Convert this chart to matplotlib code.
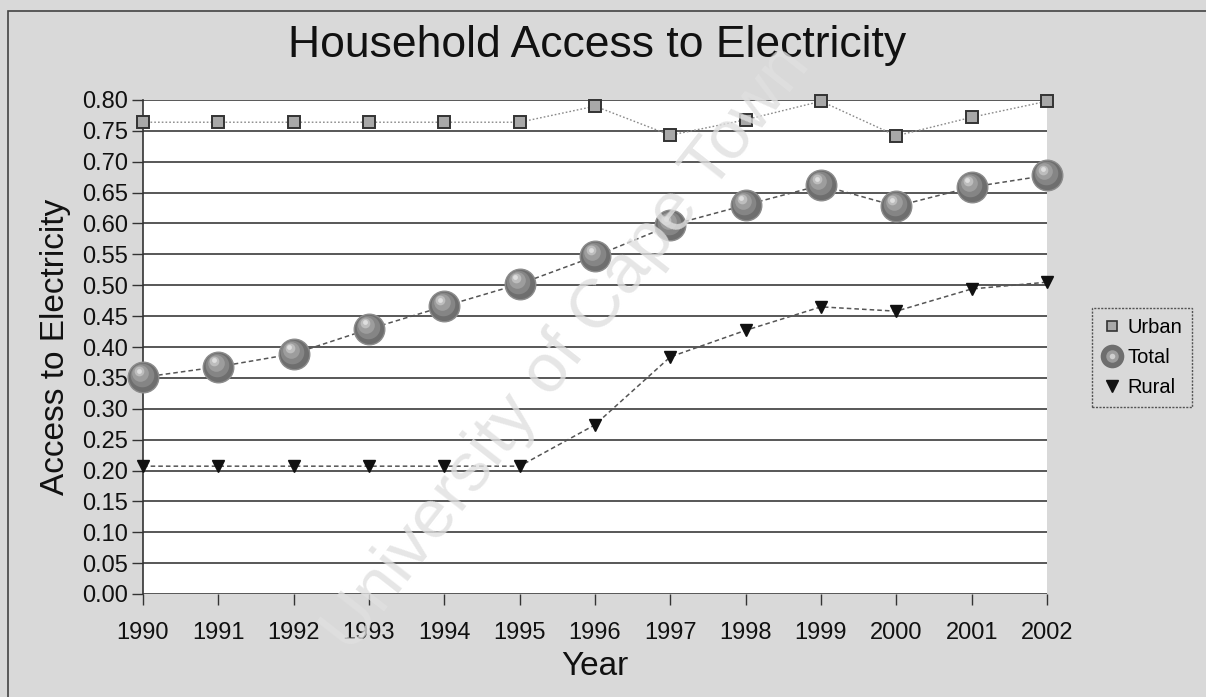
import matplotlib

matplotlib.use("Agg")
import matplotlib.pyplot as plt
import matplotlib.transforms as mtransforms
from matplotlib.legend_handler import HandlerTuple
from matplotlib.lines import Line2D
from matplotlib.patches import Rectangle

plt.rcParams["font.family"] = ["Liberation Sans", "DejaVu Sans"]

years = [1990, 1991, 1992, 1993, 1994, 1995, 1996, 1997, 1998, 1999, 2000, 2001, 2002]
urban = [0.764, 0.764, 0.764, 0.764, 0.764, 0.764, 0.790, 0.743, 0.768, 0.798, 0.742, 0.772, 0.798]
total = [0.351, 0.368, 0.389, 0.429, 0.466, 0.502, 0.547, 0.597, 0.630, 0.662, 0.628, 0.659, 0.678]
rural = [0.207, 0.207, 0.207, 0.207, 0.207, 0.207, 0.274, 0.384, 0.427, 0.465, 0.458, 0.494, 0.505]
y_ticks = [i * 0.05 for i in range(17)]

BG = "#d9d9d9"

fig = plt.figure(figsize=(12.06, 6.97), dpi=100, facecolor=BG)
ax = fig.add_axes([143 / 1206, 1 - 594 / 697, (1047 - 143) / 1206, (594 - 100) / 697])
ax.set_facecolor("white")

# outer chart frame
fig.patches.append(Rectangle((8 / 1206, -0.05), 1.2, 1 - 11 / 697 + 0.05,
                             transform=fig.transFigure, fill=False,
                             edgecolor="#444444", lw=1.2, zorder=0))

for y in y_ticks:
    ax.axhline(y, color="#4a4a4a", lw=1.3, zorder=1)

ax.plot(years, urban, ls=(0, (1.2, 1.5)), color="#8a8a8a", lw=1.0, zorder=3)
ax.plot(years, urban, ls="none", marker="s", ms=8, mfc="#a8a8a8", mec="#333333",
        mew=1.4, zorder=4, clip_on=False)

ax.plot(years, rural, ls=(0, (3, 2)), color="#555555", lw=1.1, zorder=3)
ax.plot(years, rural, ls="none", marker="v", ms=9, color="#111111", zorder=4,
        clip_on=False)

# shaded spheres for the total series
ax.plot(years, total, ls=(0, (3, 2)), color="#555555", lw=1.1, zorder=3)
ax.plot(years, total, ls="none", marker="o", ms=22, mfc="#6e6e6e", mec="#8c8c8c",
        mew=1.0, zorder=5, clip_on=False)
shades = [(17, -1.0, 1.5, "#858585"), (12, -2.0, 3.0, "#9d9d9d"),
          (7, -2.8, 4.2, "#bdbdbd"), (3.5, -3.2, 4.8, "#dedede")]
for size, dx, dy, shade in shades:
    tr = mtransforms.offset_copy(ax.transData, fig=fig, x=dx, y=dy, units="points")
    ax.plot(years, total, ls="none", marker="o", ms=size, mfc=shade, mec="none",
            zorder=6, transform=tr, clip_on=False)

ax.set_xlim(1990, 2002)
ax.set_ylim(0, 0.8)
ax.set_xticks(years)
ax.set_yticks(y_ticks)
ax.set_yticklabels([f"{v:.2f}" for v in y_ticks])
ax.tick_params(axis="both", labelsize=17, direction="out", length=8, width=1.0,
               color="#333333", labelcolor="#111111")
ax.tick_params(axis="x", pad=12)
ax.tick_params(axis="y", pad=3)
for side in ("top", "right", "bottom"):
    ax.spines[side].set_visible(False)
ax.spines["left"].set_color("#333333")
ax.spines["left"].set_linewidth(1.2)

ax.set_xlabel("Year", fontsize=24, labelpad=5, color="#111111")
ax.set_ylabel("Access to Electricity", fontsize=24, labelpad=8, color="#111111")
fig.text(597 / 1206, 1 - 46 / 697, "Household Access to Electricity", fontsize=32,
         ha="center", va="center", color="#111111")

h_urban = Line2D([], [], ls="none", marker="s", ms=7, mfc="#a8a8a8", mec="#333333", mew=1.2)
h_total = (Line2D([], [], ls="none", marker="o", ms=17, mfc="#6e6e6e", mec="none"),
           Line2D([], [], ls="none", marker="o", ms=9, mfc="#9d9d9d", mec="none"),
           Line2D([], [], ls="none", marker="o", ms=4, mfc="#cfcfcf", mec="none"))
h_rural = Line2D([], [], ls="none", marker="v", ms=8, color="#111111")
leg = fig.legend([h_urban, h_total, h_rural], ["Urban", "Total", "Rural"],
                 loc="upper left", bbox_to_anchor=(1092 / 1206, 1 - 308 / 697),
                 bbox_transform=fig.transFigure, fontsize=14.5, frameon=True,
                 fancybox=False, edgecolor="#333333", facecolor=BG,
                 handlelength=1.0, handletextpad=0.25, borderpad=0.5,
                 labelspacing=0.55, borderaxespad=0,
                 handler_map={tuple: HandlerTuple(ndivide=1, pad=0)})
leg.get_frame().set_linewidth(1.0)
leg.get_frame().set_linestyle((0, (1.5, 1)))

# faint diagonal watermark
fig.text(0.47, 0.50, "University of Cape Town", fontsize=50, rotation=52,
         rotation_mode="anchor", ha="center", va="center", color="#e0e0e0",
         alpha=0.8, zorder=20)

fig.savefig("out.png", dpi=100, facecolor=BG)
